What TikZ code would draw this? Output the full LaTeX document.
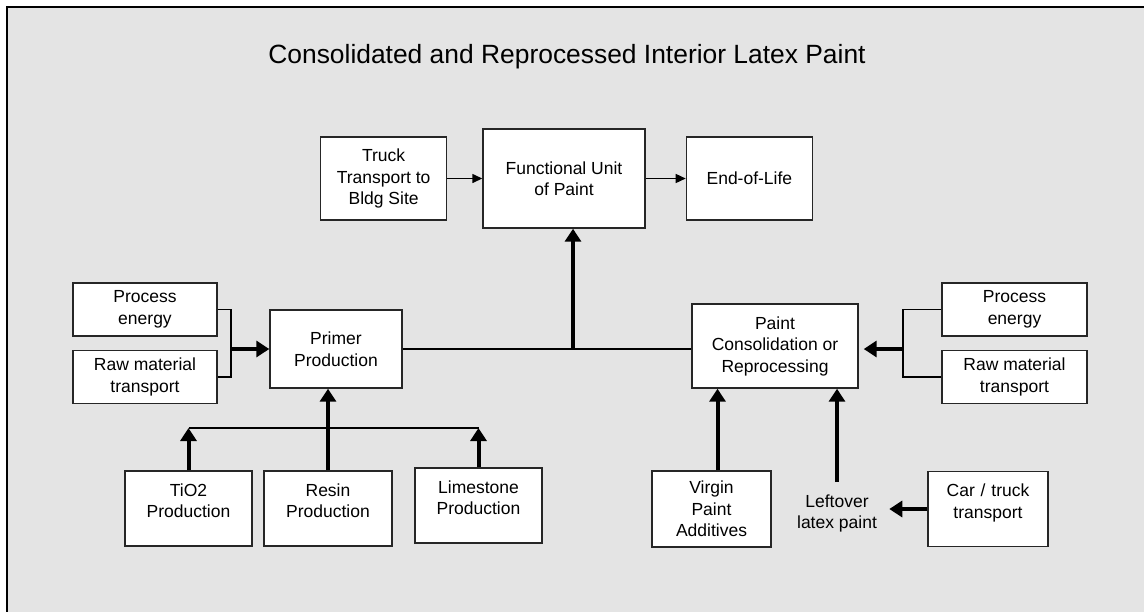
\documentclass[tikz,border=0pt]{standalone}
\usepackage{fontspec}
\setmainfont{Liberation Sans}
\usetikzlibrary{positioning,arrows.meta}
\definecolor{panelgray}{HTML}{E4E4E4}

\begin{document}
\begin{tikzpicture}[
  x=0.5pt, y=-0.5pt,
  stage/.style={draw=black!85, line width=0.7pt, fill=white, align=center,
                font=\fontsize{8.75}{10.75}\selectfont, inner sep=1pt},
  topset/.style={text width=58pt, inner ysep=6pt,
                 text height=6.5pt, text depth=19pt},
  feed/.style={line width=2pt, -{Triangle[length=6.5pt,width=8pt]}},
  link/.style={line width=0.7pt},
  thinarrow/.style={line width=0.7pt, -{Triangle[length=5pt,width=4.5pt]}},
  ]
  \useasboundingbox (0,0) rectangle (1144,611);
  \draw[line width=1pt, fill=panelgray] (6.5,6.5) rectangle (1170,640);

  \node[font=\fontsize{13.2}{16}\selectfont] (title) at (567,57)
    {Consolidated and Reprocessed Interior Latex Paint};

  % top row
  \node[stage, minimum width=81pt, minimum height=49.5pt] (unit) at (564,178.5)
    {Functional Unit\\of Paint};
  \node[stage, minimum width=63pt, minimum height=41.5pt, left=17.5pt of unit] (truck)
    {Truck\\Transport to\\Bldg Site};
  \node[stage, minimum width=63pt, minimum height=41.5pt, right=20pt of unit] (eol)
    {End-of-Life};

  % primer side
  \node[stage, minimum width=66pt, minimum height=39pt] (primer) at (336,349)
    {Primer\\Production};
  \node[stage, minimum width=72pt, minimum height=26.5pt] (pe1) at (145,309.5)
    {Process\\energy};
  \node[stage, minimum width=72pt, minimum height=26.5pt, below=6.5pt of pe1] (rm1)
    {Raw material\\transport};

  % consolidation side
  \node[stage, minimum width=83pt, minimum height=42pt] (recon) at (775,346)
    {Paint\\Consolidation or\\Reprocessing};
  \node[stage, minimum width=72.5pt, minimum height=26.5pt] (pe2) at (1014.5,309.5)
    {Process\\energy};
  \node[stage, minimum width=72.5pt, minimum height=26.5pt, below=6.5pt of pe2] (rm2)
    {Raw material\\transport};

  % bottom row
  \node[stage, topset, minimum width=63.5pt] (tio2) at (188.5,508.5) {TiO2\\Production};
  \node[stage, topset, minimum width=64pt] (resin) at (328,508.5) {Resin\\Production};
  \node[stage, topset, minimum width=63.5pt] (lime) at (478.5,505.5) {Limestone\\Production};
  \node[stage, minimum width=59.5pt, minimum height=38pt] (virgin) at (711.5,509)
    {Virgin\\Paint\\Additives};
  \node[align=center, font=\fontsize{8.75}{10.75}\selectfont, inner sep=6pt] (leftover)
    at (837,513.5) {Leftover\\latex paint};
  \node[stage, topset, minimum width=59pt] (car) at (988,509) {Car / truck\\transport};

  \coordinate (lj) at (231,349);
  \coordinate (rj) at (903,349);
  \coordinate (hub) at (573,349);
  \coordinate (bar) at (0,428);

  \draw[thinarrow] (truck) -- (unit);
  \draw[thinarrow] (unit) -- (eol);
  \draw[link] (pe1.east) -| (lj) |- (rm1.east);
  \draw[feed] (lj) -- (primer.west);
  \draw[link] (pe2.west) -| (rj) |- (rm2.west);
  \draw[feed] (rj) -- ([xshift=2.5pt]rj -| recon.east);
  \draw[link] (primer.east) -- (primer.east -| recon.west);
  \draw[feed] (hub) -- (hub |- unit.south);
  \draw[link] (tio2.north |- bar) -- (lime.north |- bar);
  \draw[feed] (tio2.north) -- (tio2.north |- bar);
  \draw[feed] (resin.north) -- (resin.north |- primer.south);
  \draw[feed] (lime.north) -- (lime.north |- bar);
  \draw[feed] ([xshift=3pt]virgin.north) -- ([xshift=3pt]virgin.north |- recon.south);
  \draw[feed] (leftover.north) -- (leftover.north |- recon.south);
  \draw[feed] (car.west) -- (car.west -| leftover.east);
\end{tikzpicture}
\end{document}
